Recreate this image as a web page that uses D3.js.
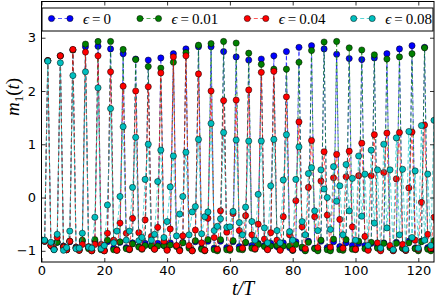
<!DOCTYPE html>
<html>
<head>
<meta charset="utf-8">
<script src="https://cdn.jsdelivr.net/npm/d3@7"></script>
<style>
  body { margin: 0; background: white; }
</style>
</head>
<body>
<div id="vis1"></div>
<script>
// stroboscopic samples t/T = 0..125
let tSteps = d3.range(0, 126);

// m_1(t) for each epsilon
let eps0 = [-0.80,-0.82,
  2.57,-0.90,-0.97,-0.84, 2.66,-0.91,-0.98,-0.83, 2.77,-0.93,-0.98,-0.82, 2.83,-0.94,-0.99,-0.82,
  2.84,-0.95,-0.99,-0.83, 2.79,-0.95,-0.98,-0.84, 2.70,-0.94,-0.97,-0.85, 2.60,-0.92,-0.96,-0.86,
  2.58,-0.91,-0.96,-0.86, 2.62,-0.90,-0.97,-0.85, 2.70,-0.91,-0.98,-0.84, 2.79,-0.93,-0.99,-0.83,
  2.83,-0.95,-0.99,-0.82, 2.83,-0.95,-0.98,-0.82, 2.74,-0.94,-0.97,-0.83, 2.64,-0.92,-0.96,-0.85,
  2.58,-0.90,-0.96,-0.86, 2.60,-0.90,-0.97,-0.86, 2.66,-0.92,-0.98,-0.85, 2.74,-0.94,-0.99,-0.83,
  2.82,-0.95,-0.99,-0.82, 2.85,-0.95,-0.98,-0.82, 2.79,-0.94,-0.97,-0.83, 2.69,-0.92,-0.96,-0.85,
  2.61,-0.90,-0.96,-0.86, 2.59,-0.90,-0.97,-0.86, 2.62,-0.91,-0.98,-0.85, 2.70,-0.93,-0.99,-0.84,
  2.79,-0.95,-0.99,-0.82, 2.85,-0.95,-0.98,-0.82, 2.82,-0.94,-0.97,-0.83];

let eps001 = [-0.80,-0.82,
  2.57,-0.90,-0.97,-0.84, 2.66,-0.92,-0.98,-0.82, 2.77,-0.94,-0.99,-0.80, 2.88,-0.96,-1.00,-0.79,
  2.93,-0.98,-1.00,-0.80, 2.93,-0.98,-0.99,-0.83, 2.78,-0.96,-0.98,-0.87, 2.59,-0.93,-0.97,-0.90,
  2.46,-0.91,-0.97,-0.91, 2.43,-0.90,-0.98,-0.89, 2.54,-0.92,-0.99,-0.85, 2.72,-0.95,-1.00,-0.81,
  2.86,-0.97,-1.00,-0.79, 2.89,-0.98,-1.00,-0.79, 2.93,-0.98,-0.99,-0.81, 2.90,-0.97,-0.98,-0.84,
  2.71,-0.95,-0.97,-0.88, 2.50,-0.92,-0.97,-0.91, 2.41,-0.90,-0.98,-0.91, 2.41,-0.91,-0.99,-0.88,
  2.54,-0.93,-1.00,-0.84, 2.76,-0.96,-1.00,-0.80, 2.92,-0.98,-1.00,-0.78, 2.93,-0.98,-0.99,-0.79,
  2.81,-0.97,-0.98,-0.82, 2.77,-0.96,-0.98,-0.84, 2.68,-0.95,-0.98,-0.86, 2.60,-0.94,-0.99,-0.86,
  2.64,-0.95,-0.99,-0.85, 2.70,-0.96,-1.00,-0.83, 2.81,-0.97,-1.00,-0.81];

let eps004 = [-0.80,-0.82,
  2.57,-0.90,-0.97,-0.75, 2.66,-0.93,-0.98,-0.82, 2.78,-0.95,-0.99,-0.88, 2.73,-0.92,-1.00,-0.88,
  2.66,-0.88,-1.00,-0.67, 2.36,-0.80,-0.99,-0.48, 2.09,-0.67,-0.97,-0.39, 2.00,-0.66,-0.96,-0.42,
  2.08,-0.73,-0.97,-0.56, 2.34,-0.82,-0.99,-0.59, 2.64,-0.90,-1.00,-0.72, 2.66,-0.90,-1.00,-0.61,
  2.32,-0.85,-0.99,-0.39, 2.00,-0.75,-0.97,-0.25, 1.82,-0.65,-0.96,-0.30, 1.83,-0.62,-0.95,-0.34,
  2.02,-0.70,-0.96,-0.50, 2.35,-0.78,-0.98,-0.66, 2.37,-0.80,-0.99,-0.36, 1.89,-0.70,-0.98,-0.06,
  1.42,-0.55,-0.96,0.19, 1.07,-0.36,-0.94,0.31, 0.86,-0.33,-0.93,0.37, 0.81,-0.41,-0.95,0.39,
  0.87,-0.55,-0.97,0.41, 1.02,-0.73,-0.99,0.41, 1.18,-0.85,-1.00,0.47, 1.21,-0.90,-1.00,0.35,
  1.22,-0.88,-0.99,0.18, 1.23,-0.80,-0.97,-0.09, 1.36,-0.69,-0.96,-0.37];

let eps008 = [-0.80,-0.80,
  2.56,-0.84,-0.98,-0.69, 2.53,-0.99,-0.94,-0.63, 2.29,-0.96,-0.95,-0.67, 2.36,-0.93,-0.95,-0.37,
  2.06,-0.96,-0.90,-0.14, 1.67,-0.85,-0.63,0.02, 1.33,-0.80,-0.63,0.19, 1.13,-0.81,-0.75,0.34,
  1.00,-0.80,-0.69,0.30, 0.89,-0.75,-0.45,0.20, 0.78,-0.72,-0.31,0.02, 0.85,-0.70,-0.27,-0.17,
  1.09,-0.68,-0.36,-0.27, 1.39,-0.62,-0.54,-0.40, 1.22,-0.56,-0.55,-0.26, 1.08,-0.47,-0.70,-0.18,
  1.06,-0.45,-0.80,0.06, 1.06,-0.57,-0.85,0.22, 1.09,-0.62,-0.85,0.33, 1.18,-0.64,-0.80,0.34,
  0.95,-0.45,-0.70,0.45, 0.56,-0.25,-0.62,0.52, 0.16,0.00,-0.60,0.58, -0.07,0.22,-0.70,0.62,
  -0.25,0.36,-0.80,0.78, -0.35,0.44,-0.90,0.89, -0.48,0.52,-0.95,1.00, -0.57,0.52,-0.98,1.12,
  -0.70,0.53,-0.97,1.24, -0.75,0.50,-0.95,1.35, -0.80,0.44,-0.90,1.45];

let seriesLabels = ["0", "0.01", "0.04", "0.08"];
let seriesColors = ["#0000ff", "#008000", "#ff0000", "#00bfbf"];
let xTicks = [0, 20, 40, 60, 80, 100, 120];
let yTicks = [-1, 0, 1, 2, 3];

let allSeries = [eps0, eps001, eps004, eps008];

let margin = { top: 1.5, left: 41.5, right: 2, bottom: 37 },
  width = 436 - margin.left - margin.right,
  height = 299 - margin.top - margin.bottom;

let svg = d3.select('#vis1')
  .append('svg')
  .attr('width', 436)
  .attr('height', 299)
  .style('background-color', 'white')
  .style('display', 'block');

let g = svg.append('g').attr('transform', `translate(${margin.left},${margin.top})`);

let x = d3.scaleLinear().domain([0, 125]).range([0, width]);
let y = d3.scaleLinear().domain([-1.21, 3.68]).range([height, 0]);

g.append('clipPath').attr('id', 'plotclip')
  .append('rect').attr('width', width).attr('height', height);

// data
let line = d3.line().x((d, i) => x(tSteps[i])).y(d => y(d));
let plot = g.append('g').attr('clip-path', 'url(#plotclip)');

allSeries.forEach(function (vals, s) {
  let sg = plot.append('g');
  sg.append('path')
    .datum(vals)
    .attr('d', line)
    .attr('fill', 'none')
    .attr('stroke', seriesColors[s])
    .attr('stroke-width', 1)
    .attr('stroke-opacity', 0.65)
    .attr('stroke-dasharray', '4,2.5');
  sg.selectAll('circle')
    .data(vals)
    .join('circle')
    .attr('cx', (d, i) => x(tSteps[i]))
    .attr('cy', d => y(d))
    .attr('r', 3.1)
    .attr('fill', seriesColors[s])
    .attr('stroke', 'black')
    .attr('stroke-width', 0.5);
});

// axes, ticks pointing inward
let fontTick = '"DejaVu Sans", sans-serif';
let fmt = d3.format('d');
g.append('g').attr('transform', `translate(0,${height})`)
  .call(d3.axisBottom(x).tickValues(xTicks).tickFormat(fmt).tickSize(-4).tickPadding(4));
g.append('g')
  .call(d3.axisLeft(y).tickValues(yTicks).tickFormat(fmt).tickSize(-4).tickPadding(5.5));
g.append('g')
  .call(d3.axisTop(x).tickValues(xTicks).tickSize(-4).tickFormat(''));
g.append('g').attr('transform', `translate(${width},0)`)
  .call(d3.axisRight(y).tickValues(yTicks).tickSize(-4).tickFormat(''));

g.selectAll('.domain').remove();
g.selectAll('.tick line').attr('stroke', 'black').attr('stroke-width', 0.8);
g.selectAll('.tick text')
  .attr('fill', 'black')
  .style('font-family', fontTick)
  .style('font-size', '13px');

g.append('rect')
  .attr('width', width).attr('height', height)
  .attr('fill', 'none').attr('stroke', 'black').attr('stroke-width', 1);

// legend
let leg = g.append('g');
leg.append('rect')
  .attr('x', 0.5).attr('y', 6.5)
  .attr('width', width - 1.5).attr('height', 23)
  .attr('fill', 'white').attr('stroke', 'black').attr('stroke-width', 1);

let legX = [10, 98.5, 205.8, 312.2];
seriesLabels.forEach(function (lab, s) {
  let lx = legX[s], ly = 17;
  leg.append('line')
    .attr('x1', lx).attr('x2', lx + 18.5)
    .attr('y1', ly).attr('y2', ly)
    .attr('stroke', seriesColors[s]).attr('stroke-opacity', 0.65)
    .attr('stroke-dasharray', '4,2.5');
  [lx, lx + 18.5].forEach(function (cx) {
    leg.append('circle')
      .attr('cx', cx).attr('cy', ly).attr('r', 3.1)
      .attr('fill', seriesColors[s]).attr('stroke', 'black').attr('stroke-width', 0.5);
  });
  let t = leg.append('text')
    .attr('x', lx + 31.5).attr('y', ly + 5)
    .style('font-family', '"Liberation Serif", serif')
    .style('font-size', '15px');
  t.append('tspan').style('font-style', 'italic').text('\u03f5');
  t.append('tspan').text('\u2009=\u2009' + lab);
});

// axis titles
let ylab = svg.append('text')
  .attr('transform', 'translate(19,97) rotate(-90)')
  .attr('text-anchor', 'middle')
  .style('font-family', '"Liberation Serif", serif')
  .style('font-size', '19px');
ylab.append('tspan').style('font-style', 'italic').text('m');
ylab.append('tspan').attr('dy', 4).style('font-size', '13px').text('1');
ylab.append('tspan').attr('dy', -4).text('(');
ylab.append('tspan').style('font-style', 'italic').text('t');
ylab.append('tspan').text(')');

svg.append('text')
  .attr('x', 243).attr('y', 295)
  .attr('text-anchor', 'middle')
  .style('font-family', '"Liberation Serif", serif')
  .style('font-size', '20px')
  .style('font-style', 'italic')
  .text('t/T');
</script>
</body>
</html>
